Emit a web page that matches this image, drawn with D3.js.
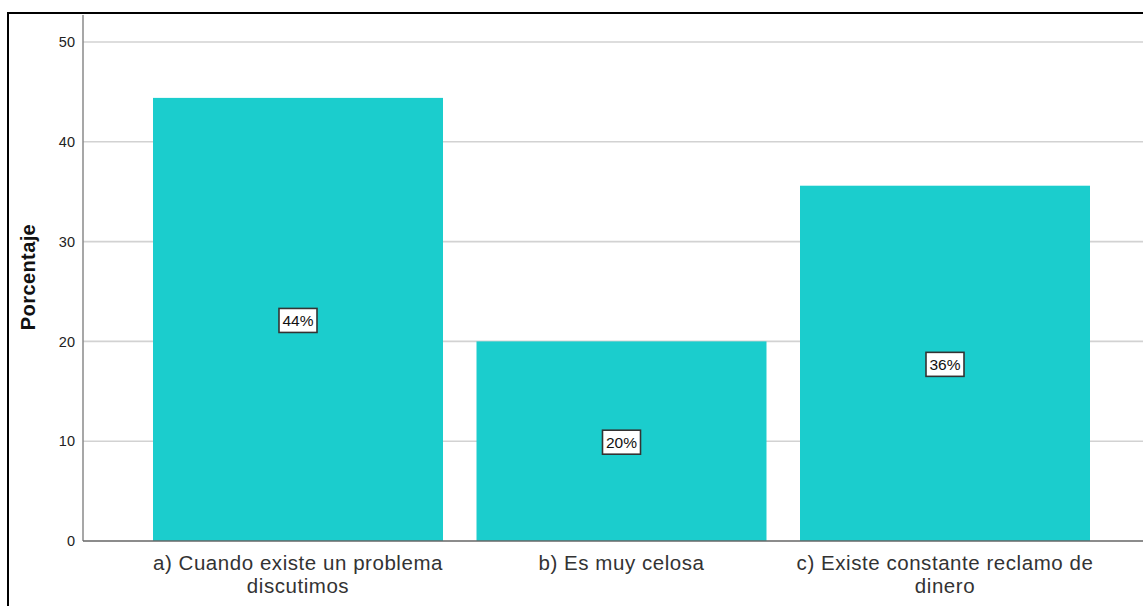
<!DOCTYPE html>
<html>
<head>
<meta charset="utf-8">
<script src="https://cdn.jsdelivr.net/npm/d3@7"></script>
<style>
  html, body { margin: 0; padding: 0; background: #fff; }
  svg { display: block; }
</style>
</head>
<body>
<svg id="chart" width="1143" height="606"></svg>
<script>
const categories = [
  ["a) Cuando existe un problema", "discutimos"],
  ["b) Es muy celosa"],
  ["c) Existe constante reclamo de", "dinero"]
];
const values = [44.4, 20.0, 35.6];
const valueLabels = ["44%", "20%", "36%"];
const yTicks = [0, 10, 20, 30, 40, 50];
const yTitle = "Porcentaje";

const svg = d3.select("#chart");
const font = "'Liberation Sans', Arial, sans-serif";

// frame
svg.append("path")
  .attr("d", "M8,620 L8,13 L1160,13")
  .attr("fill", "none").attr("stroke", "#000").attr("stroke-width", 2);

const y = d3.scaleLinear().domain([0, 50]).range([541, 42]);
const x = d3.scaleBand()
  .domain(d3.range(categories.length))
  .range([136.25, 1106.75])
  .paddingInner(0.1036)
  .paddingOuter(0.0518);

// gridlines
svg.append("g").selectAll("line")
  .data(yTicks.filter(d => d > 0))
  .join("line")
  .attr("x1", 83).attr("x2", 1143)
  .attr("y1", d => y(d)).attr("y2", d => y(d))
  .attr("stroke", "#d2d2d2").attr("stroke-width", 1.6);

// bars
svg.append("g").selectAll("rect")
  .data(values)
  .join("rect")
  .attr("x", (d, i) => x(i))
  .attr("width", x.bandwidth())
  .attr("y", d => y(d))
  .attr("height", d => y(0) - y(d))
  .attr("fill", "#1bcdcd");

// y axis
const yAxis = d3.axisLeft(y).tickValues(yTicks).tickSize(0).tickPadding(8);
const ga = svg.append("g").attr("transform", "translate(83,0)").call(yAxis);
ga.select(".domain").remove();
ga.selectAll("text")
  .attr("font-family", font).attr("font-size", 14.5).attr("fill", "#222");
svg.append("line")
  .attr("x1", 83).attr("x2", 83).attr("y1", 15).attr("y2", 541)
  .attr("stroke", "#8a8a8a").attr("stroke-width", 1.5);

// x axis line
svg.append("line")
  .attr("x1", 83).attr("x2", 1143).attr("y1", 541).attr("y2", 541)
  .attr("stroke", "#666").attr("stroke-width", 1.5);

// category labels
const cl = svg.append("g").selectAll("text")
  .data(categories)
  .join("text")
  .attr("text-anchor", "middle")
  .attr("font-family", font).attr("font-size", 20.5)
  .attr("letter-spacing", "0.55px")
  .attr("fill", "#333");
cl.each(function(lines, i) {
  const t = d3.select(this);
  lines.forEach((ln, j) => {
    t.append("tspan")
      .attr("x", x(i) + x.bandwidth() / 2)
      .attr("y", 570 + j * 22.5)
      .text(ln);
  });
});

// value labels
const vl = svg.append("g").selectAll("g")
  .data(values)
  .join("g")
  .attr("transform", (d, i) => `translate(${x(i) + x.bandwidth() / 2},${(y(d) + y(0)) / 2 + 1})`);
vl.append("rect")
  .attr("x", -19).attr("y", -12).attr("width", 38).attr("height", 24)
  .attr("fill", "#fff").attr("stroke", "#333").attr("stroke-width", 1.6);
vl.append("text")
  .attr("text-anchor", "middle").attr("dy", "0.36em")
  .attr("font-family", font).attr("font-size", 15.5)
  .attr("fill", "#111")
  .text((d, i) => valueLabels[i]);

// y title
svg.append("text")
  .attr("transform", "translate(35,277) rotate(-90)")
  .attr("text-anchor", "middle")
  .attr("font-family", font).attr("font-size", 20).attr("font-weight", "bold")
  .attr("letter-spacing", "0.4px")
  .attr("fill", "#111")
  .text(yTitle);
</script>
</body>
</html>
